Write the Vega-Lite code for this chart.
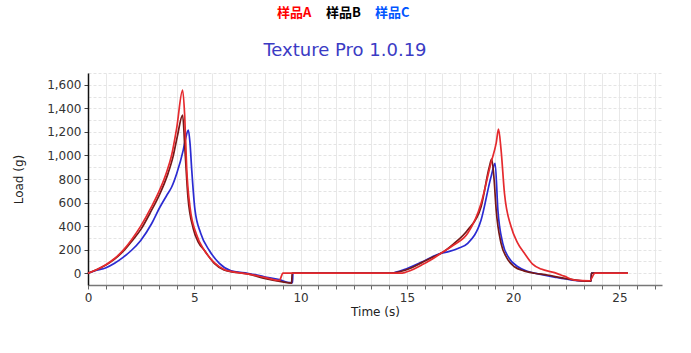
{
  "$schema": "https://vega.github.io/schema/vega-lite/v6.json",
  "width": 574,
  "height": 212,
  "autosize": "none",
  "padding": {"left": 88, "top": 73, "right": 29, "bottom": 68},
  "background": "white",
  "title": {"text": "Texture Pro 1.0.19", "color": "#3b3bc4", "font": "DejaVu Sans", "fontSize": 18, "fontWeight": "normal", "anchor": "middle", "dx": -30, "dy": 68, "offset": 14},
  "data": {"values": [
    {"s":"样品C","t":0,"L":0},{"s":"样品C","t":0.4,"L":25},{"s":"样品C","t":0.82,"L":45},{"s":"样品C","t":1.25,"L":85},{"s":"样品C","t":1.65,"L":135},{"s":"样品C","t":2.05,"L":195},{"s":"样品C","t":2.48,"L":278},{"s":"样品C","t":2.99,"L":420},{"s":"样品C","t":3.38,"L":560},{"s":"样品C","t":3.7,"L":660},{"s":"样品C","t":3.93,"L":730},{"s":"样品C","t":4.17,"L":845},{"s":"样品C","t":4.48,"L":1045},{"s":"样品C","t":4.6,"L":1150},{"s":"样品C","t":4.72,"L":1216},{"s":"样品C","t":4.8,"L":1100},{"s":"样品C","t":4.88,"L":876},{"s":"样品C","t":5.03,"L":540},{"s":"样品C","t":5.3,"L":340},{"s":"样品C","t":5.7,"L":195},{"s":"样品C","t":6.18,"L":84},{"s":"样品C","t":6.73,"L":20},{"s":"样品C","t":6.97,"L":12},{"s":"样品C","t":7.5,"L":0},{"s":"样品C","t":8.3,"L":-30},{"s":"样品C","t":9.0,"L":-55},{"s":"样品C","t":9.5,"L":-80},{"s":"样品C","t":9.62,"L":-80},{"s":"样品C","t":9.64,"L":0},{"s":"样品C","t":14.2,"L":0},{"s":"样品C","t":14.7,"L":20},{"s":"样品C","t":15.2,"L":55},{"s":"样品C","t":15.7,"L":95},{"s":"样品C","t":16.2,"L":140},{"s":"样品C","t":16.6,"L":169},{"s":"样品C","t":17.0,"L":185},{"s":"样品C","t":17.4,"L":210},{"s":"样品C","t":17.86,"L":254},{"s":"样品C","t":18.49,"L":452},{"s":"样品C","t":18.96,"L":820},{"s":"样品C","t":19.15,"L":933},{"s":"样品C","t":19.28,"L":537},{"s":"样品C","t":19.51,"L":254},{"s":"样品C","t":19.8,"L":130},{"s":"样品C","t":20.22,"L":55},{"s":"样品C","t":20.7,"L":15},{"s":"样品C","t":21.3,"L":-10},{"s":"样品C","t":22.0,"L":-35},{"s":"样品C","t":22.8,"L":-58},{"s":"样品C","t":23.66,"L":-68},{"s":"样品C","t":23.68,"L":0},{"s":"样品C","t":25.4,"L":0},
    {"s":"样品B","t":0,"L":0},{"s":"样品B","t":0.4,"L":30},{"s":"样品B","t":0.82,"L":68},{"s":"样品B","t":1.25,"L":120},{"s":"样品B","t":1.65,"L":185},{"s":"样品B","t":2.05,"L":270},{"s":"样品B","t":2.48,"L":370},{"s":"样品B","t":2.99,"L":535},{"s":"样品B","t":3.33,"L":655},{"s":"样品B","t":3.77,"L":850},{"s":"样品B","t":4.0,"L":990},{"s":"样品B","t":4.2,"L":1160},{"s":"样品B","t":4.45,"L":1343},{"s":"样品B","t":4.56,"L":1050},{"s":"样品B","t":4.7,"L":650},{"s":"样品B","t":4.95,"L":380},{"s":"样品B","t":5.2,"L":260},{"s":"样品B","t":5.47,"L":195},{"s":"样品B","t":5.94,"L":84},{"s":"样品B","t":6.4,"L":27},{"s":"样品B","t":6.89,"L":8},{"s":"样品B","t":7.5,"L":-5},{"s":"样品B","t":8.3,"L":-44},{"s":"样品B","t":9.09,"L":-72},{"s":"样品B","t":9.58,"L":-84},{"s":"样品B","t":9.6,"L":0},{"s":"样品B","t":14.2,"L":0},{"s":"样品B","t":14.7,"L":15},{"s":"样品B","t":15.2,"L":45},{"s":"样品B","t":15.7,"L":90},{"s":"样品B","t":16.2,"L":135},{"s":"样品B","t":16.6,"L":169},{"s":"样品B","t":17.2,"L":250},{"s":"样品B","t":17.86,"L":367},{"s":"样品B","t":18.49,"L":565},{"s":"样品B","t":18.88,"L":905},{"s":"样品B","t":18.99,"L":968},{"s":"样品B","t":19.1,"L":800},{"s":"样品B","t":19.2,"L":537},{"s":"样品B","t":19.43,"L":254},{"s":"样品B","t":19.7,"L":130},{"s":"样品B","t":20.06,"L":55},{"s":"样品B","t":20.5,"L":20},{"s":"样品B","t":21.0,"L":0},{"s":"样品B","t":21.6,"L":-15},{"s":"样品B","t":22.3,"L":-40},{"s":"样品B","t":23.0,"L":-60},{"s":"样品B","t":23.66,"L":-68},{"s":"样品B","t":23.68,"L":0},{"s":"样品B","t":25.4,"L":0},
    {"s":"样品A","t":0,"L":0},{"s":"样品A","t":0.4,"L":30},{"s":"样品A","t":0.82,"L":70},{"s":"样品A","t":1.25,"L":125},{"s":"样品A","t":1.65,"L":194},{"s":"样品A","t":2.05,"L":285},{"s":"样品A","t":2.48,"L":400},{"s":"样品A","t":2.99,"L":565},{"s":"样品A","t":3.33,"L":690},{"s":"样品A","t":3.7,"L":860},{"s":"样品A","t":3.93,"L":1000},{"s":"样品A","t":4.17,"L":1230},{"s":"样品A","t":4.45,"L":1555},{"s":"样品A","t":4.55,"L":1330},{"s":"样品A","t":4.64,"L":900},{"s":"样品A","t":4.8,"L":560},{"s":"样品A","t":5.1,"L":330},{"s":"样品A","t":5.47,"L":195},{"s":"样品A","t":5.94,"L":90},{"s":"样品A","t":6.4,"L":32},{"s":"样品A","t":6.89,"L":10},{"s":"样品A","t":7.5,"L":-5},{"s":"样品A","t":8.3,"L":-35},{"s":"样品A","t":9.0,"L":-62},{"s":"样品A","t":9.17,"L":0},{"s":"样品A","t":14.7,"L":0},{"s":"样品A","t":15.2,"L":25},{"s":"样品A","t":15.7,"L":70},{"s":"样品A","t":16.2,"L":120},{"s":"样品A","t":16.6,"L":169},{"s":"样品A","t":17.2,"L":240},{"s":"样品A","t":17.86,"L":339},{"s":"样品A","t":18.49,"L":593},{"s":"样品A","t":18.96,"L":940},{"s":"样品A","t":19.2,"L":1104},{"s":"样品A","t":19.31,"L":1223},{"s":"样品A","t":19.43,"L":1047},{"s":"样品A","t":19.59,"L":679},{"s":"样品A","t":19.9,"L":396},{"s":"样品A","t":20.2,"L":260},{"s":"样品A","t":20.53,"L":169},{"s":"样品A","t":20.9,"L":80},{"s":"样品A","t":21.32,"L":35},{"s":"样品A","t":21.95,"L":5},{"s":"样品A","t":22.4,"L":-25},{"s":"样品A","t":22.9,"L":-58},{"s":"样品A","t":23.6,"L":-64},{"s":"样品A","t":23.85,"L":0},{"s":"样品A","t":25.4,"L":0}
  ]},
  "mark": {"type": "line", "interpolate": "monotone", "strokeWidth": 1.7},
  "encoding": {
    "x": {"field": "t", "type": "quantitative",
      "scale": {"domain": [0, 27], "nice": false, "zero": false},
      "axis": {
        "values": [0,0.8333,1.6667,2.5,3.3333,4.1667,5,5.8333,6.6667,7.5,8.3333,9.1667,10,10.8333,11.6667,12.5,13.3333,14.1667,15,15.8333,16.6667,17.5,18.3333,19.1667,20,20.8333,21.6667,22.5,23.3333,24.1667,25,25.8333,26.6667],
        "labelExpr": "abs(datum.value/5 - round(datum.value/5)) < 0.001 ? format(datum.value, 'd') : ''",
        "title": "Time (s)", "grid": true, "gridColor": "#e8e8e8", "tickSize": 4, "tickColor": "#666",
        "domainColor": "#777", "domainWidth": 1.5, "labelFont": "DejaVu Sans", "labelFontSize": 12, "labelColor": "#333",
        "labelPadding": 3, "labelOverlap": false, "labelFlush": false,
        "titleFont": "DejaVu Sans", "titleFontSize": 12, "titleFontWeight": "normal", "titleColor": "#222", "titlePadding": 3
      }
    },
    "y": {"field": "L", "type": "quantitative",
      "scale": {"domain": [-100, 1700], "nice": false, "zero": false},
      "axis": {
        "values": [-100,0,100,200,300,400,500,600,700,800,900,1000,1100,1200,1300,1400,1500,1600,1700],
        "labelExpr": "datum.value >= 0 && datum.value % 200 == 0 && datum.value <= 1600 ? format(datum.value, ',') : ''",
        "title": "Load (g)", "grid": true, "gridColor": "#e4e4e4", "gridDash": [3, 2], "tickSize": 4, "tickColor": "#444",
        "tickOpacity": {"condition": {"test": "datum.value >= 0 && datum.value % 200 == 0 && datum.value <= 1600", "value": 1}, "value": 0},
        "domainColor": "#111", "domainWidth": 1.5, "labelFont": "DejaVu Sans", "labelFontSize": 12, "labelColor": "#333",
        "labelPadding": 3, "labelOverlap": false,
        "titleFont": "DejaVu Sans", "titleFontSize": 12, "titleFontWeight": "normal", "titleColor": "#222", "titlePadding": 21
      }
    },
    "color": {"field": "s", "type": "nominal",
      "scale": {"domain": ["样品A", "样品B", "样品C"], "range": ["#e52a2e", "#761818", "#2b2bd2"]},
      "legend": {
        "orient": "none", "legendX": 176, "legendY": -67, "direction": "horizontal", "title": null,
        "symbolSize": 0, "symbolStrokeWidth": 0, "symbolOpacity": 0, "labelOffset": 0, "columnPadding": 1,
        "labelFont": "Noto Sans CJK SC", "labelFontSize": 13, "labelFontWeight": "bold",
        "encode": {"labels": {"update": {"fill": {"signal": "datum.value == '样品A' ? '#ff0000' : datum.value == '样品B' ? '#000000' : '#0055ff'"}}}}
      }
    }
  },
  "config": {"view": {"stroke": null}}
}
